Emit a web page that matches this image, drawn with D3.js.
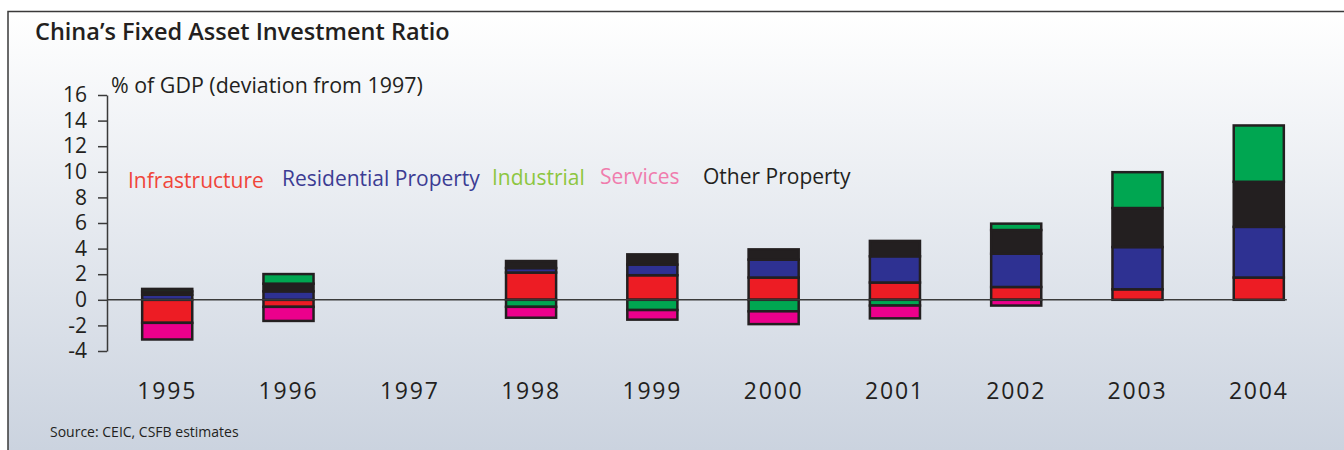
<!DOCTYPE html>
<html>
<head>
<meta charset="utf-8">
<script src="https://cdn.jsdelivr.net/npm/d3@7"></script>
<style>
  html, body { margin: 0; padding: 0; background: #ffffff; }
  svg { display: block; }
  text { font-family: "Open Sans", "Noto Sans", sans-serif; }
</style>
</head>
<body>
<svg id="chart" width="1344" height="450"></svg>
<script>
// years along the bottom
var years = ["1995", "1996", "1997", "1998", "1999", "2000", "2001", "2002", "2003", "2004"];

// % of GDP, deviation from 1997
var infrastructure = [-1.8, -0.55, 0, 2.13, 1.92, 1.74, 1.35, 1.0, 0.82, 1.74];
var residential    = [0.4, 0.66, 0, 0.35, 0.83, 1.4, 2.05, 2.6, 3.3, 3.96];
var otherProperty  = [0.25, 0.6, 0, 0.55, 0.8, 0.8, 1.2, 1.85, 3.05, 3.52];
var industrial     = [0.2, 0.75, 0, -0.55, -0.8, -0.9, -0.45, 0.5, 2.8, 4.4];
var services       = [-1.3, -1.1, 0, -0.85, -0.75, -1.0, -1.0, -0.45, 0, 0];

var yTicks = [16, 14, 12, 10, 8, 6, 4, 2, 0, -2, -4];

// stacking order (bottom up for positives, top down for negatives)
var seriesKeys = ["infrastructure", "residential", "otherProperty", "industrial", "services"];
var fills = {
    infrastructure: "#ed1c24",
    residential: "#2e3192",
    otherProperty: "#231f20",
    industrial: "#00a651",
    services: "#ec008c"
};

// legend, in the order it is written
var legendItems = [
    {label: "Infrastructure", color: "#f0453a", x: 128, y: 188},
    {label: "Residential Property", color: "#3c3c94", x: 282, y: 186},
    {label: "Industrial", color: "#8dc63f", x: 492, y: 185},
    {label: "Services", color: "#f07cad", x: 600, y: 184},
    {label: "Other Property", color: "#231f20", x: 703, y: 184}
];

var svg = d3.select("#chart");

//background gradient
var defs = svg.append("defs");
var grad = defs.append("linearGradient")
    .attr("id", "bg")
    .attr("x1", 0).attr("y1", 0).attr("x2", 0).attr("y2", 1);
grad.append("stop").attr("offset", "0%").attr("stop-color", "#ffffff");
grad.append("stop").attr("offset", "100%").attr("stop-color", "#cbd3df");

svg.append("rect")
    .attr("x", 8).attr("y", 11)
    .attr("width", 1344 - 8).attr("height", 450 - 11)
    .attr("fill", "url(#bg)");

//frame lines (top and left)
svg.append("path")
    .attr("d", "M8,450 V11.5 H1344")
    .attr("fill", "none")
    .attr("stroke", "#3a3a3a")
    .attr("stroke-width", 1.5);

//title
svg.append("text")
    .attr("x", 35).attr("y", 40)
    .attr("font-size", 23.5)
    .attr("font-weight", 600)
    .attr("fill", "#231f20")
    .text("China\u2019s Fixed Asset Investment Ratio");

//build rows for the stack
var rows = years.map(function(y, i) {
    return {
        year: y,
        infrastructure: infrastructure[i],
        residential: residential[i],
        otherProperty: otherProperty[i],
        industrial: industrial[i],
        services: services[i]
    };
});

var stacked = d3.stack()
    .keys(seriesKeys)
    .offset(d3.stackOffsetDiverging)(rows);

var x = d3.scaleBand()
    .domain(years)
    .range([107, 1319])
    .paddingInner(0.587)
    .paddingOuter(0.29);

var y = d3.scaleLinear()
    .domain([-4, 16])
    .range([351, 95]);

//y axis
var yAxis = svg.append("g")
    .attr("transform", "translate(107,0)")
    .call(d3.axisLeft(y)
        .tickValues(yTicks)
        .tickSize(9)
        .tickSizeOuter(0)
        .tickPadding(11)
        .tickFormat(function(d) { return String(d); }));
yAxis.select(".domain").attr("stroke", "#3a3a3a").attr("stroke-width", 1.5);
yAxis.selectAll(".tick line").attr("stroke", "#3a3a3a").attr("stroke-width", 1.5);
yAxis.selectAll(".tick text")
    .attr("font-size", 21)
    .attr("fill", "#231f20")
    .style("font-family", "\"Open Sans\", sans-serif");

//y axis title
svg.append("text")
    .attr("x", 111).attr("y", 93)
    .attr("font-size", 21.4)
    .attr("fill", "#231f20")
    .text("% of GDP (deviation from 1997)");

//bars, one rect per segment
svg.append("g")
    .selectAll("g")
    .data(stacked)
    .enter().append("g")
    .attr("fill", function(s) { return fills[s.key]; })
    .selectAll("rect")
    .data(function(s) { return s.filter(function(d) { return d[1] - d[0] !== 0; }); })
    .enter().append("rect")
    .attr("x", function(d) { return x(d.data.year); })
    .attr("width", x.bandwidth())
    .attr("y", function(d) { return y(Math.max(d[0], d[1])); })
    .attr("height", function(d) { return Math.abs(y(d[0]) - y(d[1])); })
    .attr("stroke", "#231f20")
    .attr("stroke-width", 2.5);

//zero line
svg.append("line")
    .attr("x1", 107)
    .attr("x2", x(years[years.length - 1]) + x.bandwidth() + 3)
    .attr("y1", y(0)).attr("y2", y(0))
    .attr("stroke", "#3a3a3a")
    .attr("stroke-width", 1.5);

//x axis labels
var xAxis = svg.append("g")
    .attr("transform", "translate(0,378)")
    .call(d3.axisBottom(x).tickSize(0).tickPadding(5));
xAxis.select(".domain").remove();
xAxis.selectAll(".tick text")
    .attr("font-size", 23)
    .attr("fill", "#231f20")
    .attr("letter-spacing", 1.8)
    .style("font-family", "\"Open Sans\", sans-serif");

//legend labels
svg.append("g")
    .selectAll("text")
    .data(legendItems)
    .enter().append("text")
    .attr("x", function(d) { return d.x; })
    .attr("y", function(d) { return d.y; })
    .attr("font-size", 21)
    .attr("fill", function(d) { return d.color; })
    .text(function(d) { return d.label; });

//source
svg.append("text")
    .attr("x", 50).attr("y", 437)
    .attr("font-size", 14)
    .attr("fill", "#231f20")
    .text("Source:  CEIC, CSFB estimates");
</script>
</body>
</html>
